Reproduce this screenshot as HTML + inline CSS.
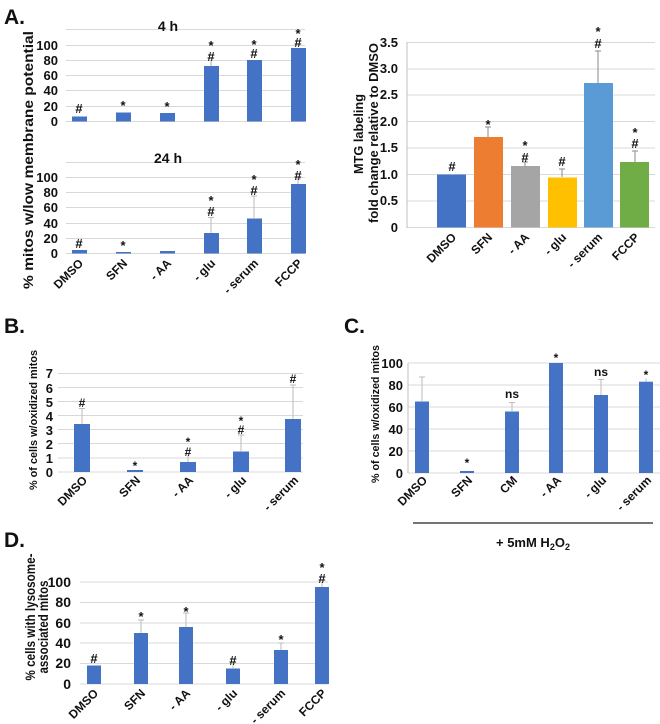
<!DOCTYPE html>
<html><head><meta charset="utf-8"><style>body{margin:0;background:#fff}svg{display:block}text{font-family:"Liberation Sans",sans-serif;font-weight:bold;fill:#111}</style></head>
<body>
<svg width="660" height="724" viewBox="0 0 660 724" xmlns="http://www.w3.org/2000/svg">
<g id="grid" stroke="#d9d9d9" stroke-width="1">
<line x1="66" x2="305" y1="29.5" y2="29.5"/><line x1="66" x2="305" y1="45.5" y2="45.5"/><line x1="66" x2="305" y1="60.5" y2="60.5"/><line x1="66" x2="305" y1="75.5" y2="75.5"/><line x1="66" x2="305" y1="90.5" y2="90.5"/><line x1="66" x2="305" y1="106.5" y2="106.5"/><line x1="66" x2="305" y1="121.5" y2="121.5"/>
<line x1="66" x2="305" y1="162.5" y2="162.5"/><line x1="66" x2="305" y1="177.5" y2="177.5"/><line x1="66" x2="305" y1="192.5" y2="192.5"/><line x1="66" x2="305" y1="207.5" y2="207.5"/><line x1="66" x2="305" y1="223.5" y2="223.5"/><line x1="66" x2="305" y1="238.5" y2="238.5"/><line x1="66" x2="305" y1="253.5" y2="253.5"/>
<line x1="407" x2="655" y1="42.5" y2="42.5"/><line x1="407" x2="655" y1="69" y2="69"/><line x1="407" x2="655" y1="95" y2="95"/><line x1="407" x2="655" y1="121.5" y2="121.5"/><line x1="407" x2="655" y1="148" y2="148"/><line x1="407" x2="655" y1="174.5" y2="174.5"/><line x1="407" x2="655" y1="201" y2="201"/><line x1="407" x2="655" y1="227.5" y2="227.5"/>
<line x1="58" x2="303" y1="373.5" y2="373.5"/><line x1="58" x2="303" y1="387.5" y2="387.5"/><line x1="58" x2="303" y1="401.5" y2="401.5"/><line x1="58" x2="303" y1="415.5" y2="415.5"/><line x1="58" x2="303" y1="429.5" y2="429.5"/><line x1="58" x2="303" y1="443.5" y2="443.5"/><line x1="58" x2="303" y1="458" y2="458"/><line x1="58" x2="303" y1="472" y2="472"/>
<line x1="408" x2="660" y1="363" y2="363"/><line x1="408" x2="660" y1="385" y2="385"/><line x1="408" x2="660" y1="407" y2="407"/><line x1="408" x2="660" y1="429" y2="429"/><line x1="408" x2="660" y1="451" y2="451"/><line x1="408" x2="660" y1="473" y2="473"/>
<line x1="80" x2="328" y1="582" y2="582"/><line x1="80" x2="328" y1="602.5" y2="602.5"/><line x1="80" x2="328" y1="623" y2="623"/><line x1="80" x2="328" y1="643" y2="643"/><line x1="80" x2="328" y1="663.5" y2="663.5"/><line x1="80" x2="328" y1="684" y2="684"/>
</g>
<line x1="407" x2="407" y1="42" y2="228" stroke="#bfbfbf"/>
<line x1="408" x2="408" y1="363" y2="473" stroke="#bfbfbf"/>

<text x="4" y="24" font-size="21">A.</text>
<text x="4" y="333" font-size="21">B.</text>
<text x="344" y="333" font-size="21">C.</text>
<text x="4" y="547" font-size="21">D.</text>

<!-- A top -->
<text x="168" y="31" font-size="14" text-anchor="middle">4 h</text>
<g font-size="13" text-anchor="end"><text x="58" y="126">0</text><text x="58" y="111">20</text><text x="58" y="95">40</text><text x="58" y="80">60</text><text x="58" y="65">80</text><text x="58" y="50">100</text></g>
<g fill="#4472C4">
<rect x="72" y="116.5" width="15" height="5"/><rect x="116" y="112.5" width="15" height="9"/><rect x="160" y="113" width="15" height="8.5"/><rect x="204" y="66" width="15" height="55.5"/><rect x="247" y="60" width="15" height="61.5"/><rect x="291" y="48" width="15" height="73.5"/>
</g>
<g stroke="#aaa"><line x1="211" x2="211" y1="66" y2="61"/></g>
<g font-size="13" text-anchor="middle">
<text x="79" y="113">#</text><text x="123" y="110">*</text><text x="167" y="111">*</text>
<text x="211" y="50">*</text><text x="211" y="61">#</text>
<text x="254" y="49">*</text><text x="254" y="58">#</text>
<text x="298" y="38">*</text><text x="298" y="47">#</text>
</g>

<!-- A bottom -->
<text x="168" y="163" font-size="14" text-anchor="middle">24 h</text>
<g font-size="13" text-anchor="end"><text x="58" y="258">0</text><text x="58" y="243">20</text><text x="58" y="228">40</text><text x="58" y="212">60</text><text x="58" y="197">80</text><text x="58" y="182">100</text></g>
<g fill="#4472C4">
<rect x="72" y="250" width="15" height="3.5"/><rect x="116" y="252" width="15" height="1.5"/><rect x="160" y="251" width="15" height="2.5"/><rect x="204" y="233" width="15" height="20.5"/><rect x="247" y="218.5" width="15" height="35"/><rect x="291" y="184" width="15" height="69.5"/>
</g>
<g stroke="#bbb"><line x1="211" x2="211" y1="233" y2="217.5"/><line x1="208" x2="214" y1="217.5" y2="217.5"/><line x1="254" x2="254" y1="218" y2="196"/><line x1="251" x2="257" y1="196" y2="196"/><line x1="298" x2="298" y1="184" y2="179"/><line x1="295" x2="301" y1="179" y2="179"/></g>
<g font-size="13" text-anchor="middle">
<text x="79" y="248">#</text><text x="123" y="250">*</text>
<text x="211" y="205">*</text><text x="211" y="216">#</text>
<text x="254" y="184">*</text><text x="254" y="195">#</text>
<text x="298" y="169">*</text><text x="298" y="180">#</text>
</g>
<g font-size="12" text-anchor="end">
<text transform="translate(84,264) rotate(-45)">DMSO</text>
<text transform="translate(128,264) rotate(-45)">SFN</text>
<text transform="translate(172,264) rotate(-45)">- AA</text>
<text transform="translate(216,264) rotate(-45)">- glu</text>
<text transform="translate(259,264) rotate(-45)">- serum</text>
<text transform="translate(303,264) rotate(-45)">FCCP</text>
</g>
<text transform="translate(33,160) rotate(-90)" font-size="14" text-anchor="middle" textLength="258" lengthAdjust="spacingAndGlyphs">% mitos w/low  membrane potential</text>

<!-- A right -->
<g font-size="13" text-anchor="end"><text x="398" y="232">0</text><text x="398" y="205">0.5</text><text x="398" y="179">1.0</text><text x="398" y="152">1.5</text><text x="398" y="126">2.0</text><text x="398" y="99">2.5</text><text x="398" y="73">3.0</text><text x="398" y="47">3.5</text></g>
<rect x="437" y="174.5" width="29" height="53" fill="#4472C4"/>
<rect x="474" y="137" width="29" height="90.5" fill="#ED7D31"/>
<rect x="511" y="166" width="29" height="61.5" fill="#A5A5A5"/>
<rect x="548" y="177.5" width="29" height="50" fill="#FFC000"/>
<rect x="584" y="83" width="29" height="144.5" fill="#5B9BD5"/>
<rect x="620" y="162" width="29" height="65.5" fill="#70AD47"/>
<g stroke="#888"><line x1="488" x2="488" y1="137" y2="127"/><line x1="485" x2="491" y1="127" y2="127"/>
<line x1="525" x2="525" y1="166" y2="162"/><line x1="522" x2="528" y1="162" y2="162"/>
<line x1="562" x2="562" y1="177" y2="169"/><line x1="559" x2="565" y1="169" y2="169"/>
<line x1="598" x2="598" y1="83" y2="51"/><line x1="595" x2="601" y1="51" y2="51"/>
<line x1="635" x2="635" y1="162" y2="151"/><line x1="632" x2="638" y1="151" y2="151"/></g>
<g font-size="13" text-anchor="middle">
<text x="452" y="171">#</text><text x="488" y="129">*</text>
<text x="525" y="150">*</text><text x="525" y="162">#</text>
<text x="562" y="166">#</text>
<text x="598" y="36">*</text><text x="598" y="48">#</text>
<text x="635" y="137">*</text><text x="635" y="148">#</text>
</g>
<g font-size="12" text-anchor="end">
<text transform="translate(457,238) rotate(-45)">DMSO</text>
<text transform="translate(493,238) rotate(-45)">SFN</text>
<text transform="translate(530,238) rotate(-45)">- AA</text>
<text transform="translate(567,238) rotate(-45)">- glu</text>
<text transform="translate(603,238) rotate(-45)">- serum</text>
<text transform="translate(640,238) rotate(-45)">FCCP</text>
</g>
<text transform="translate(363,134) rotate(-90)" font-size="13" text-anchor="middle" textLength="80" lengthAdjust="spacingAndGlyphs">MTG labeling</text>
<text transform="translate(378,133) rotate(-90)" font-size="13" text-anchor="middle" textLength="180" lengthAdjust="spacingAndGlyphs">fold change relative to DMSO</text>

<!-- B -->
<g font-size="13" text-anchor="end"><text x="53" y="477">0</text><text x="53" y="463">1</text><text x="53" y="449">2</text><text x="53" y="435">3</text><text x="53" y="421">4</text><text x="53" y="407">5</text><text x="53" y="393">6</text><text x="53" y="378">7</text></g>
<g fill="#4472C4">
<rect x="74" y="424" width="16" height="48"/><rect x="127" y="470" width="16" height="2"/><rect x="180" y="462" width="16" height="10"/><rect x="233" y="451.5" width="16" height="20.5"/><rect x="285" y="419" width="16" height="53"/>
</g>
<g stroke="#bbb"><line x1="82" x2="82" y1="424" y2="408.5"/><line x1="79" x2="85" y1="408.5" y2="408.5"/><line x1="188" x2="188" y1="462" y2="455"/><line x1="241" x2="241" y1="451" y2="435"/><line x1="238" x2="244" y1="435" y2="435"/><line x1="293" x2="293" y1="419" y2="385"/><line x1="290" x2="296" y1="385" y2="385"/></g>
<g font-size="12" text-anchor="middle">
<text x="82" y="407">#</text><text x="135" y="470">*</text>
<text x="188" y="446">*</text><text x="188" y="456">#</text>
<text x="241" y="425">*</text><text x="241" y="434">#</text>
<text x="293" y="383">#</text>
</g>
<g font-size="12" text-anchor="end">
<text transform="translate(88,481) rotate(-45)">DMSO</text>
<text transform="translate(141,481) rotate(-45)">SFN</text>
<text transform="translate(194,481) rotate(-45)">- AA</text>
<text transform="translate(247,481) rotate(-45)">- glu</text>
<text transform="translate(299,481) rotate(-45)">- serum</text>
</g>
<text transform="translate(37,420) rotate(-90)" font-size="11" text-anchor="middle" style="font-weight:600" textLength="140" lengthAdjust="spacingAndGlyphs">% of cells w/oxidized mitos</text>

<!-- C -->
<g font-size="13" text-anchor="end"><text x="403" y="478">0</text><text x="403" y="456">20</text><text x="403" y="434">40</text><text x="403" y="412">60</text><text x="403" y="390">80</text><text x="403" y="368">100</text></g>
<g fill="#4472C4">
<rect x="415" y="401.5" width="14" height="71.5"/><rect x="460" y="471" width="14" height="2"/><rect x="505" y="411.5" width="14" height="61.5"/><rect x="549" y="363" width="14" height="110"/><rect x="594" y="395" width="14" height="78"/><rect x="639" y="381.7" width="14" height="91.3"/>
</g>
<g stroke="#bbb"><line x1="422" x2="422" y1="401" y2="377"/><line x1="419" x2="425" y1="377" y2="377"/><line x1="512" x2="512" y1="411" y2="402.6"/><line x1="509" x2="515" y1="402.6" y2="402.6"/><line x1="601" x2="601" y1="395" y2="379.5"/><line x1="598" x2="604" y1="379.5" y2="379.5"/><line x1="646" x2="646" y1="382" y2="378.4"/></g>
<g font-size="12" text-anchor="middle">
<text x="467" y="467">*</text><text x="512" y="398">ns</text><text x="556" y="362">*</text><text x="601" y="376">ns</text><text x="646" y="379">*</text>
</g>
<g font-size="12" text-anchor="end">
<text transform="translate(428,481) rotate(-45)">DMSO</text>
<text transform="translate(473,481) rotate(-45)">SFN</text>
<text transform="translate(518,481) rotate(-45)">CM</text>
<text transform="translate(562,481) rotate(-45)">- AA</text>
<text transform="translate(607,481) rotate(-45)">- glu</text>
<text transform="translate(652,481) rotate(-45)">- serum</text>
</g>
<text transform="translate(379,414) rotate(-90)" font-size="11" text-anchor="middle" style="font-weight:600" textLength="138" lengthAdjust="spacingAndGlyphs">% of cells w/oxidized mitos</text>
<line x1="413" x2="653" y1="523" y2="523" stroke="#222" stroke-width="1.2"/>
<text x="533" y="547" font-size="13" text-anchor="middle">+ 5mM H<tspan font-size="9" dy="3">2</tspan><tspan dy="-3">O</tspan><tspan font-size="9" dy="3">2</tspan></text>

<!-- D -->
<g font-size="14" text-anchor="end"><text x="71" y="689">0</text><text x="71" y="668">20</text><text x="71" y="648">40</text><text x="71" y="628">60</text><text x="71" y="607">80</text><text x="71" y="587">100</text></g>
<g fill="#4472C4">
<rect x="87" y="665.5" width="14" height="18.5"/><rect x="134" y="633" width="14" height="51"/><rect x="179" y="627" width="14" height="57"/><rect x="226" y="668.5" width="14" height="15.5"/><rect x="274" y="650" width="14" height="34"/><rect x="315" y="587" width="14" height="97"/>
</g>
<g stroke="#bbb"><line x1="141" x2="141" y1="633" y2="620"/><line x1="138" x2="144" y1="620" y2="620"/><line x1="186" x2="186" y1="627" y2="613"/><line x1="183" x2="189" y1="613" y2="613"/><line x1="233" x2="233" y1="668" y2="663"/><line x1="281" x2="281" y1="650" y2="643"/><line x1="278" x2="284" y1="643" y2="643"/><line x1="322" x2="322" y1="587" y2="582"/></g>
<g font-size="13" text-anchor="middle">
<text x="94" y="663">#</text><text x="141" y="621">*</text><text x="186" y="616">*</text><text x="233" y="665">#</text><text x="281" y="644">*</text>
<text x="322" y="572">*</text><text x="322" y="583">#</text>
</g>
<g font-size="12" text-anchor="end">
<text transform="translate(99,694) rotate(-45)">DMSO</text>
<text transform="translate(146,694) rotate(-45)">SFN</text>
<text transform="translate(191,694) rotate(-45)">- AA</text>
<text transform="translate(238,694) rotate(-45)">- glu</text>
<text transform="translate(286,694) rotate(-45)">- serum</text>
<text transform="translate(327,694) rotate(-45)">FCCP</text>
</g>
<text transform="translate(35,617) rotate(-90)" font-size="14" text-anchor="middle" textLength="127" lengthAdjust="spacingAndGlyphs">% cells with lysosome-</text>
<text transform="translate(48,627) rotate(-90)" font-size="14" text-anchor="middle" textLength="93" lengthAdjust="spacingAndGlyphs">associated mitos</text>
</svg>
</body></html>
